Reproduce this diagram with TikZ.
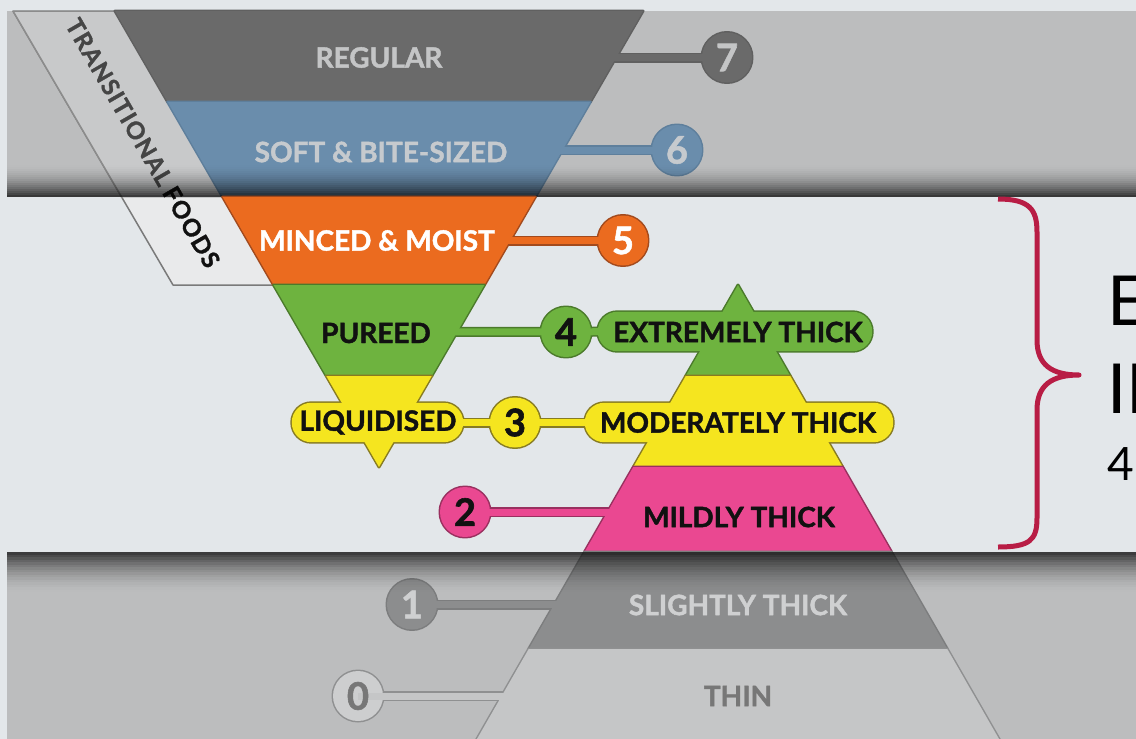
\documentclass[tikz,border=0pt]{standalone}
\usepackage{fontspec}
\setmainfont{Lato}[BoldFeatures={FakeBold=1.5}]
\definecolor{bgc}{HTML}{E3E7EA}
\definecolor{bandc}{HTML}{BCBDBE}
\definecolor{tfl}{HTML}{E9EAEB}
\definecolor{tfo}{HTML}{7A7A7A}
\definecolor{tfb}{HTML}{C8C9CA}
\definecolor{tfbo}{HTML}{8C8C8C}
\definecolor{tftext}{HTML}{454545}
\definecolor{regc}{HTML}{6A6A6A}
\definecolor{rego}{HTML}{606060}
\definecolor{regt}{HTML}{C4C5C6}
\definecolor{softc}{HTML}{6A8DAC}
\definecolor{softo}{HTML}{5E7F9C}
\definecolor{softt}{HTML}{C6CACE}
\definecolor{orc}{HTML}{EB6B1F}
\definecolor{oro}{HTML}{A24A1D}
\definecolor{grc}{HTML}{6EB33F}
\definecolor{gro}{HTML}{4B7A2B}
\definecolor{yec}{HTML}{F5E51F}
\definecolor{yeo}{HTML}{877B22}
\definecolor{pic}{HTML}{EA4891}
\definecolor{pio}{HTML}{99305F}
\definecolor{slc}{HTML}{8C8D8E}
\definecolor{slo}{HTML}{7C7D7E}
\definecolor{slt}{HTML}{CFD0D1}
\definecolor{thc}{HTML}{C5C6C7}
\definecolor{tho}{HTML}{8F9091}
\definecolor{tht}{HTML}{777777}
\definecolor{zec}{HTML}{CDCECF}
\definecolor{brc}{HTML}{B81D45}
\definecolor{ink}{HTML}{111111}
\newcommand\lblfont{\fontsize{28}{30}\selectfont\bfseries}
\newcommand\numfont{\fontsize{38}{40}\selectfont\bfseries}
\newcommand\tffont{\fontsize{24}{25}\selectfont\bfseries}
\newcommand\bigrfont{\fontsize{69}{70}\selectfont}
\newcommand\midrfont{\fontsize{46}{48}\selectfont}
\newcommand\ls{\kern1.3pt}
\tikzset{
  ol/.style={draw=#1, line width=3pt},
  fl/.style={fill=#1},
  barol/.style={draw=#1, line width=10pt},
  barfl/.style={draw=#1, line width=7pt},
  dot/.style={circle, minimum size=50pt, inner sep=0pt},
  pillbox/.style={rectangle, minimum height=39pt, inner sep=0pt},
  lbl/.style={font=\lblfont, inner sep=0pt},
  num/.style={font=\numfont, inner sep=0pt},
  pillr/.style={rounded corners=19.5pt},
  rtext/.style={inner sep=0pt, anchor=base west, text=black}
}
\begin{document}
\begin{tikzpicture}[x=1pt,y=-1pt,line join=round]
\useasboundingbox (0,0) rectangle (1136,739);
\fill[bgc] (0,0) rectangle (1136,739);
\fill[bandc] (7,11) rectangle (1136,197);
\fill[bandc] (7,552) rectangle (1136,739);

% transitional foods band
\filldraw[fill=tfl, draw=tfo, line width=1.5pt] (13,11) -- (115,11) -- (273.6,285) -- (173,285) -- cycle;
\begin{scope}
  \clip (7,11) rectangle (1136,197);
  \filldraw[fill=tfb, draw=tfbo, line width=1.5pt] (13,11) -- (115,11) -- (273.6,285) -- (173,285) -- cycle;
\end{scope}
\node[font=\tffont, inner sep=0pt, rotate=-60] (tf) at (143,143)
  {\color{tftext}T\ls R\ls A\ls N\ls S\ls I\ls T\ls I\ls O\ls N\ls A\ls L\ \color{ink}F\ls O\ls O\ls D\ls S};

% anchors
\node[dot] (c7) at (727,57.5) {};
\node[dot] (c6) at (677,150) {};
\node[dot] (c5) at (623,240.5) {};
\node[dot] (c4) at (566,332) {};
\node[dot] (c3) at (515,422.5) {};
\node[dot] (c2) at (465,512) {};
\node[dot] (c1) at (412,604.5) {};
\node[dot] (c0) at (358,696) {};
\coordinate (e7) at (598,57.5);
\coordinate (e6) at (545,150);
\coordinate (e5) at (495,240.5);
\coordinate (e4) at (445,332);
\coordinate (e2) at (625,512);
\coordinate (e1) at (572,604.5);
\coordinate (e0) at (518,696);
\node[pillbox, minimum width=274pt] (pEX) at (735,331.5) {};
\node[pillbox, minimum width=308pt] (pMOD) at (739,422.5) {};
\node[pillbox, minimum width=171pt] (pLIQ) at (377.5,422.5) {};

% level 7
\draw[barol=rego] (e7) -- (c7.center);
\path[ol=rego] (115,11) -- (643,11) -- (590.3,102) -- (167.7,102) -- cycle;
\path[ol=rego] (c7.center) circle[radius=25];
\path[fl=regc] (115,11) -- (643,11) -- (590.3,102) -- (167.7,102) -- cycle;
\path[fl=regc] (c7.center) circle[radius=25];
\draw[barfl=regc] (e7) -- (c7.center);
\node[lbl, text=regt] (t7) at (379,57.5) {REGULAR};
\node[num, text=regt] (n7) at (c7.center) {7};

% level 6
\draw[barol=softo] (e6) -- (c6.center);
\path[ol=softo] (167.7,102) -- (590.3,102) -- (535.3,197) -- (222.7,197) -- cycle;
\path[ol=softo] (c6.center) circle[radius=25];
\path[fl=softc] (167.7,102) -- (590.3,102) -- (535.3,197) -- (222.7,197) -- cycle;
\path[fl=softc] (c6.center) circle[radius=25];
\draw[barfl=softc] (e6) -- (c6.center);
\node[lbl, text=softt] (t6) at (381,152) {SOFT \& BITE-SIZED};
\node[num, text=softt] (n6) at (c6.center) {6};

% top shadow
\foreach \i in {0,...,15}{
  \pgfmathsetmacro\op{0.7*((\i+1)/16)^1.8}
  \fill[black, opacity=\op] (7,{165+2*\i}) rectangle (1136,{167+2*\i});
}

% level 5
\draw[barol=oro] (e5) -- (c5.center);
\path[ol=oro] (222.7,197) -- (535.3,197) -- (484.4,285) -- (273.6,285) -- cycle;
\path[ol=oro] (c5.center) circle[radius=25];
\path[fl=orc] (222.7,197) -- (535.3,197) -- (484.4,285) -- (273.6,285) -- cycle;
\path[fl=orc] (c5.center) circle[radius=25];
\draw[barfl=orc] (e5) -- (c5.center);
\node[lbl, text=white] (t5) at (377,240.5) {MINCED \& MOIST};
\node[num, text=white] (n5) at (c5.center) {5};

% level 4
\draw[barol=gro] (e4) -- (pEX.center);
\path[ol=gro] (273.6,285) -- (484.4,285) -- (431.7,376) -- (326.3,376) -- cycle;
\path[ol=gro] (c4.center) circle[radius=25];
\path[ol=gro, pillr] (pEX.south west) rectangle (pEX.north east);
\path[ol=gro] (738,285) -- (790.3,376) -- (685.7,376) -- cycle;
\path[fl=grc] (273.6,285) -- (484.4,285) -- (431.7,376) -- (326.3,376) -- cycle;
\path[fl=grc] (c4.center) circle[radius=25];
\path[fl=grc, pillr] (pEX.south west) rectangle (pEX.north east);
\path[fl=grc] (738,285) -- (790.3,376) -- (685.7,376) -- cycle;
\draw[barfl=grc] (e4) -- (pEX.center);
\node[lbl, text=ink] (t4a) at (376,333) {PUREED};
\node[lbl, text=ink] (t4b) at (738,332) {EXTREMELY THICK};
\node[num, text=ink] (n4) at (c4.center) {4};

% level 3
\draw[barol=yeo] (pLIQ.center) -- (pMOD.center);
\path[ol=yeo] (326.3,376) -- (431.7,376) -- (379,467) -- cycle;
\path[ol=yeo, pillr] (pLIQ.south west) rectangle (pLIQ.north east);
\path[ol=yeo] (c3.center) circle[radius=25];
\path[ol=yeo, pillr] (pMOD.south west) rectangle (pMOD.north east);
\path[ol=yeo] (685.7,376) -- (790.3,376) -- (842.65,467) -- (633.35,467) -- cycle;
\path[fl=yec] (326.3,376) -- (431.7,376) -- (379,467) -- cycle;
\path[fl=yec, pillr] (pLIQ.south west) rectangle (pLIQ.north east);
\path[fl=yec] (c3.center) circle[radius=25];
\path[fl=yec, pillr] (pMOD.south west) rectangle (pMOD.north east);
\path[fl=yec] (685.7,376) -- (790.3,376) -- (842.65,467) -- (633.35,467) -- cycle;
\draw[barfl=yec] (pLIQ.center) -- (pMOD.center);
\node[lbl, text=ink] (t3a) at (378,422.5) {LIQUIDISED};
\node[lbl, text=ink] (t3b) at (738,422.5) {MODERATELY THICK};
\node[num, text=ink] (n3) at (c3.center) {3};

% level 2
\draw[barol=pio] (c2.center) -- (e2);
\path[ol=pio] (633.35,467) -- (842.65,467) -- (891.5,552) -- (584.5,552) -- cycle;
\path[ol=pio] (c2.center) circle[radius=25];
\path[fl=pic] (633.35,467) -- (842.65,467) -- (891.5,552) -- (584.5,552) -- cycle;
\path[fl=pic] (c2.center) circle[radius=25];
\draw[barfl=pic] (c2.center) -- (e2);
\node[lbl, text=ink] (t2) at (739,517) {MILDLY THICK};
\node[num, text=ink] (n2) at (c2.center) {2};

% level 1
\draw[barol=slo] (c1.center) -- (e1);
\path[ol=slo] (584.5,552) -- (891.5,552) -- (947.3,649) -- (528.7,649) -- cycle;
\path[ol=slo] (c1.center) circle[radius=25];
\path[fl=slc] (584.5,552) -- (891.5,552) -- (947.3,649) -- (528.7,649) -- cycle;
\path[fl=slc] (c1.center) circle[radius=25];
\draw[barfl=slc] (c1.center) -- (e1);
\node[lbl, text=slt] (t1) at (738,605) {SLIGHTLY THICK};
\node[num, text=slt] (n1) at (c1.center) {1};

% level 0
\draw[barol=tho] (c0.center) -- (e0);
\path[ol=tho] (528.7,649) -- (947.3,649) -- (1000.2,741) -- (475.8,741) -- cycle;
\path[ol=tho] (c0.center) circle[radius=25];
\path[fl=thc] (528.7,649) -- (947.3,649) -- (1000.2,741) -- (475.8,741) -- cycle;
\path[fl=zec] (c0.center) circle[radius=25];
\draw[barfl=thc] (c0.center) -- (e0);
\node[lbl, text=tht] (t0) at (738,696) {THIN};
\node[num, text=tht] (n0) at (c0.center) {0};

% bottom shadow
\foreach \i in {0,...,15}{
  \pgfmathsetmacro\op{0.68*(1-\i/16)^1.8}
  \fill[black, opacity=\op] (7,{552+2.5*\i}) rectangle (1136,{554.5+2.5*\i});
}

% brace
\draw[brc, line width=5pt] (998,199) .. controls (1030,199) and (1037,210) .. (1037,232)
  -- (1037,340) .. controls (1037,365) and (1052,375) .. (1079,375)
  .. controls (1052,375) and (1037,385) .. (1037,410)
  -- (1037,518) .. controls (1037,540) and (1030,547) .. (998,547);

% right text (cut by the edge)
\node[rtext, font=\bigrfont] (r1) at (1107,325) {E};
\node[rtext, font=\bigrfont] (r2) at (1107,413) {II};
\node[rtext, font=\midrfont] (r3) at (1107,480) {4};
\end{tikzpicture}
\end{document}
